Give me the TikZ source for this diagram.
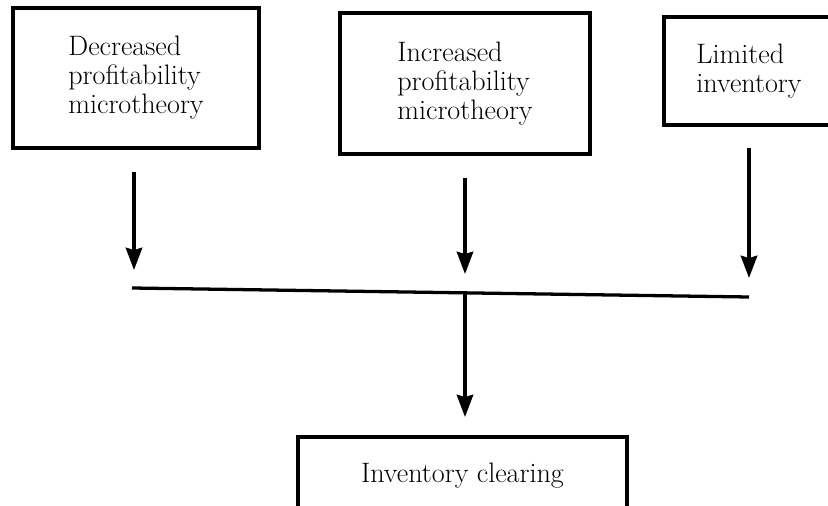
\documentclass[tikz,border=0pt]{standalone}
\usetikzlibrary{arrows.meta}
\begin{document}
\begin{tikzpicture}[x=0.03cm,y=-0.03cm,
  box/.style={draw,line width=2.8pt,inner sep=0pt,align=left,
    font=\fontsize{24}{24.8}\selectfont},
  flow/.style={line width=2.8pt,-{Stealth[length=19pt,width=14pt,inset=2pt]}},
  bar/.style={line width=2.8pt}]
  \useasboundingbox (0,0) rectangle (828,506);
  \clip (0,0) rectangle (828,506);

  % source boxes
  \node[box,minimum width=246*0.03cm,minimum height=140*0.03cm] (dec) at (136,78)
    {Decreased\\profitability\\microtheory};
  \node[box,minimum width=250*0.03cm,minimum height=141*0.03cm] (inc) at (465,83.5)
    {Increased\\profitability\\microtheory};
  \node[box,minimum width=170*0.03cm,minimum height=108*0.03cm] (lim) at (749,71)
    {Limited\\inventory};

  % result box
  \node[box,minimum width=329*0.03cm,minimum height=78*0.03cm] (clr) at (462.5,476)
    {Inventory clearing};

  % arrow ends
  \coordinate (d1) at (134,172);
  \coordinate (d2) at (134,270);
  \coordinate (i1) at (465,178);
  \coordinate (i2) at (465,274);
  \coordinate (l1) at (749,148);
  \coordinate (l2) at (749,278);
  \coordinate (barL) at (132,288);
  \coordinate (barR) at (749,297);
  \coordinate (barM) at (465,293);
  \coordinate (out) at (465,417);

  \draw[flow] (d1) -- (d2);
  \draw[flow] (i1) -- (i2);
  \draw[flow] (l1) -- (l2);
  \draw[bar] (barL) -- (barR);
  \draw[flow] (barM) -- (out);
\end{tikzpicture}
\end{document}
